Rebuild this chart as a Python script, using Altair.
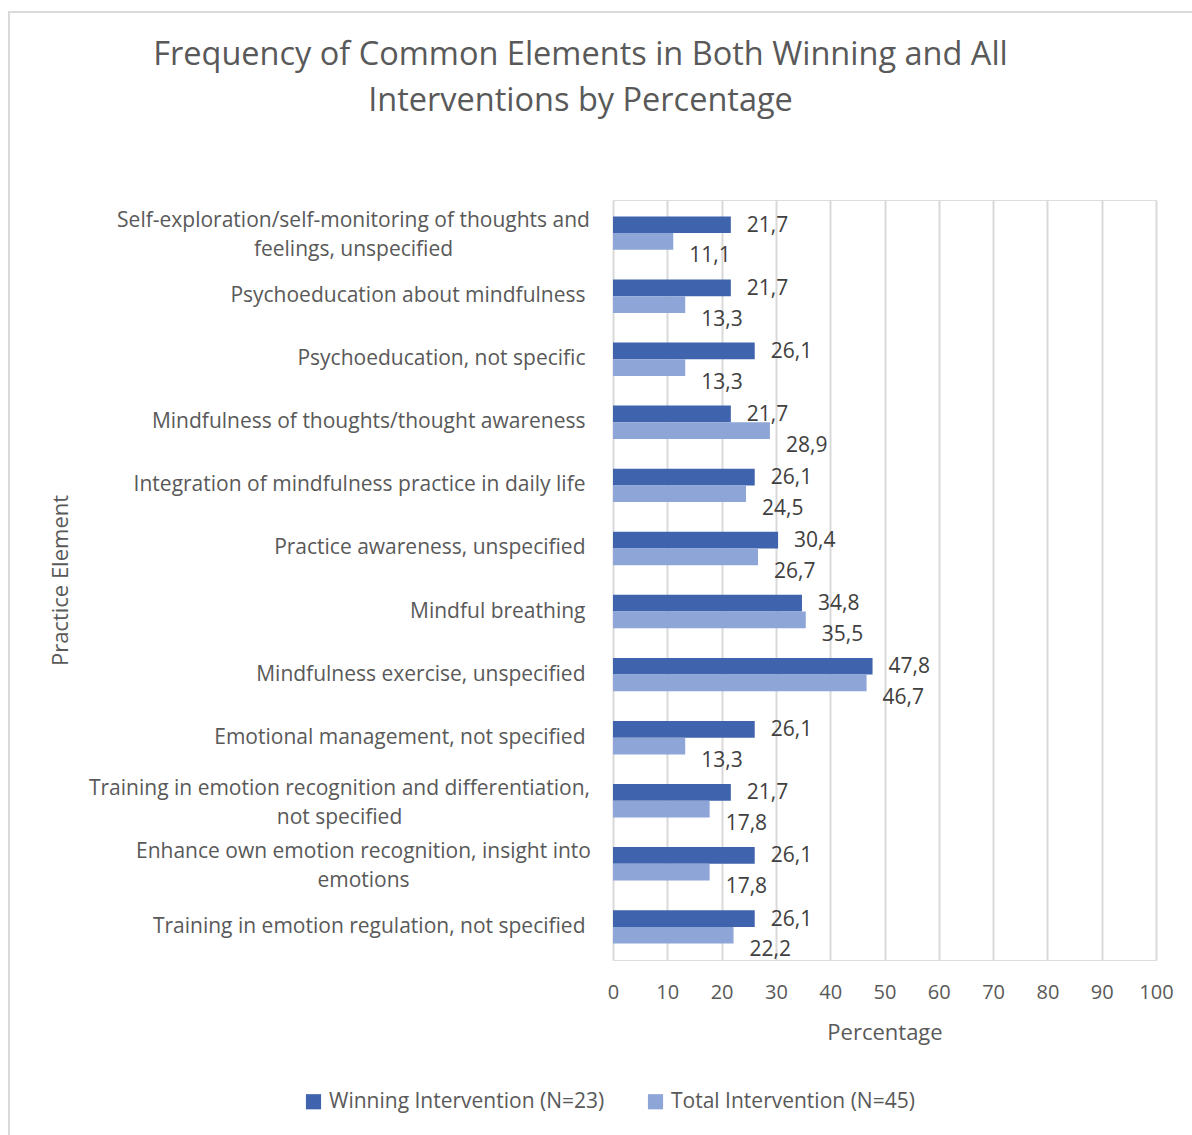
import altair as alt
import pandas as pd

categories = [
    "Self-exploration/self-monitoring of thoughts and|feelings, unspecified",
    "Psychoeducation about mindfulness",
    "Psychoeducation, not specific",
    "Mindfulness of thoughts/thought awareness",
    "Integration of mindfulness practice in daily life",
    "Practice awareness, unspecified",
    "Mindful breathing",
    "Mindfulness exercise, unspecified",
    "Emotional management, not specified",
    "Training in emotion recognition and differentiation,|not specified",
    "Enhance own emotion recognition, insight into|emotions",
    "Training in emotion regulation, not specified",
]
winning = [21.7, 21.7, 26.1, 21.7, 26.1, 30.4, 34.8, 47.8, 26.1, 21.7, 26.1, 26.1]
total = [11.1, 13.3, 13.3, 28.9, 24.5, 26.7, 35.5, 46.7, 13.3, 17.8, 17.8, 22.2]
series = ["Winning Intervention (N=23)", "Total Intervention (N=45)"]
colors = ["#3F63AD", "#8EA5D7"]

rows = []
for c, w, t in zip(categories, winning, total):
    rows.append({"cat": c, "series": series[0], "value": w, "label": f"{w:.1f}".replace(".", ",")})
    rows.append({"cat": c, "series": series[1], "value": t, "label": f"{t:.1f}".replace(".", ",")})
df = pd.DataFrame(rows)

FONT = "Open Sans"
GREY = "#595959"
LFS = 21

# multi-line labels: centre the lines and the block (as in the reference)
multi = "indexof(datum.value, '|') >= 0"
half_w = (
    "(indexof(datum.value, 'Self-exploration') >= 0 ? 237 : "
    "indexof(datum.value, 'Training in emotion recognition') >= 0 ? 251 : 227)"
)

y_enc = alt.Y(
    "cat:N",
    sort=categories,
    scale=alt.Scale(paddingInner=0.47, paddingOuter=0.26),
    axis=alt.Axis(
        title="Practice Element",
        labelExpr="split(datum.label, '|')",
        labelFontSize=LFS,
        labelColor=GREY,
        labelFont=FONT,
        labelPadding={"expr": f"{multi} ? 23 + {half_w} : 28"},
        labelAlign={"expr": f"{multi} ? 'center' : 'right'"},
        labelOffset={"expr": f"{multi} ? -12 : 0"},
        labelLimit=600,
        labelLineHeight=29,
        ticks=False,
        domain=False,
        grid=False,
        titleFontSize=22,
        titleFont=FONT,
        titleColor=GREY,
        titleFontWeight="normal",
        titleX=-553,
        titleY=380,
        titleAngle=-90,
        titleBaseline="middle",
        titleAlign="center",
    ),
)
yoff = alt.YOffset("series:N", sort=series)

x_enc = alt.X(
    "value:Q",
    scale=alt.Scale(domain=[0, 100], nice=False),
    axis=alt.Axis(
        title="Percentage",
        values=list(range(0, 101, 10)),
        labelFontSize=20,
        labelColor=GREY,
        labelFont=FONT,
        labelPadding=22,
        labelFlush=False,
        labelBound=False,
        ticks=False,
        domain=False,
        grid=True,
        gridColor="#D9D9D9",
        gridWidth=2,
        titleFontSize=22,
        titleFont=FONT,
        titleColor=GREY,
        titleFontWeight="normal",
        titleY=72,
        titleBaseline="middle",
    ),
)

bars = alt.Chart(df).mark_bar().encode(
    x=x_enc,
    y=y_enc,
    yOffset=yoff,
    color=alt.Color(
        "series:N",
        sort=series,
        scale=alt.Scale(domain=series, range=colors),
        legend=alt.Legend(
            title=None,
            orient="none",
            direction="horizontal",
            legendX=-310,
            legendY=891,
            symbolType="square",
            symbolSize=230,
            symbolStrokeWidth=0,
            labelFontSize=21,
            labelFont=FONT,
            labelColor=GREY,
            labelLimit=500,
            columnPadding=40,
            labelOffset=5,
        ),
    ),
)

lab_w = alt.Chart(df[df["series"] == series[0]]).mark_text(
    align="left", baseline="middle", dx=16, dy=1, fontSize=21, font=FONT, color="#404040"
).encode(x="value:Q", y=alt.Y("cat:N", sort=categories), yOffset=yoff, text="label:N")

lab_t = alt.Chart(df[df["series"] == series[1]]).mark_text(
    align="left", baseline="middle", dx=16, dy=15, fontSize=21, font=FONT, color="#404040"
).encode(x="value:Q", y=alt.Y("cat:N", sort=categories), yOffset=yoff, text="label:N")

border = alt.Chart(pd.DataFrame({"a": [0]})).mark_rect(
    fill=None, stroke="#D9D9D9", strokeWidth=2, clip=False
).encode(
    x=alt.value(-604), x2=alt.value(600), y=alt.value(-188), y2=alt.value(960)
)

chart = alt.layer(border, bars, lab_w, lab_t).properties(
    width=543,
    height=760,
    padding={"left": 613, "top": 200, "right": 36, "bottom": 175},
    autosize=alt.AutoSizeParams(type="none"),
    title=alt.TitleParams(
        text=["Frequency of Common Elements in Both Winning and All", "Interventions by Percentage"],
        fontSize=32.5,
        font=FONT,
        color=GREY,
        fontWeight="normal",
        anchor="middle",
        frame="group",
        dx=-304,
        offset=-106,
        lineHeight=46,
    ),
).configure_view(stroke=None).configure(background="white")

chart.save("out.html", embed_options={"renderer": "svg", "actions": False})
